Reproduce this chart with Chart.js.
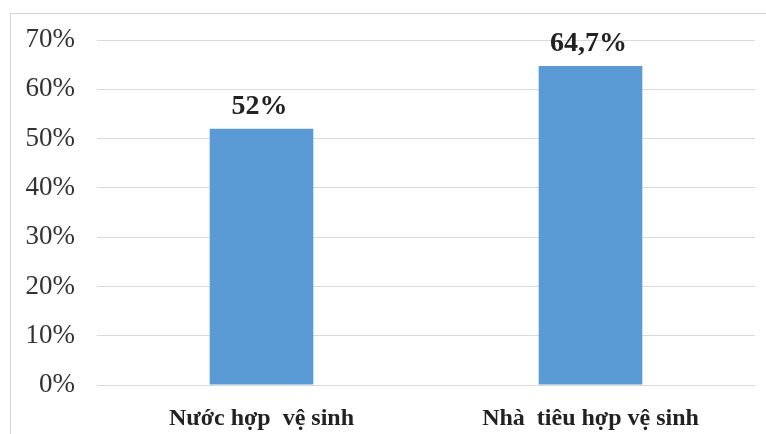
<!DOCTYPE html>
<html>
<head>
<meta charset="utf-8">
<script src="https://cdn.jsdelivr.net/npm/chart.js@4/dist/chart.umd.min.js"></script>
<style>
  html, body { margin: 0; padding: 0; background: #fff; }
  #wrap { position: absolute; left: 0; top: 0; width: 766px; height: 434px; }
  #frame { position: absolute; left: 10px; top: 13px; width: 756px; height: 421px;
    border-left: 1px solid #d4d4d4; border-top: 1px solid #d4d4d4; box-sizing: border-box; }
</style>
</head>
<body>
<div id="wrap">
  <canvas id="chart-bar" width="766" height="434"></canvas>
</div>
<div id="frame"></div>
<script>
const categories = ['Nước hợp  vệ sinh', 'Nhà  tiêu hợp vệ sinh']
const values = [52, 64.7]
const yTicks = [0, 10, 20, 30, 40, 50, 60, 70]

const serif = '"Liberation Serif", "Times New Roman", serif'

// value labels on top of the bars
const barLabels = {
	id: 'barLabels',
	afterDatasetsDraw(chart) {
		const ctx = chart.ctx
		const meta = chart.getDatasetMeta(0)
		ctx.save()
		ctx.font = 'bold 28px ' + serif
		ctx.fillStyle = '#222'
		ctx.textAlign = 'center'
		ctx.textBaseline = 'alphabetic'
		meta.data.forEach((bar, i) => {
			const txt = String(values[i]).replace('.', ',') + '%'
			ctx.fillText(txt, bar.x - 2, bar.y - 15)
		})
		ctx.restore()
	}
}

const mainchartBar = document.getElementById('chart-bar')
let chartBar = new Chart(mainchartBar, {
	type: 'bar',
	data: {
		labels: categories,
		datasets: [{
			data: values,
			backgroundColor: '#5b9bd5',
			borderWidth: 0,
			categoryPercentage: 1,
			barPercentage: 0.315
		}]
	},
	options: {
		responsive: false,
		animation: false,
		events: [],
		layout: {
			padding: { top: 40, right: 11, left: 0, bottom: 0 }
		},
		scales: {
			x: {
				grid: { display: false },
				border: { display: false },
				ticks: {
					padding: 11,
					color: '#222',
					font: { family: serif, size: 24, weight: 'bold' }
				},
				afterFit(scale) { scale.height = 49 }
			},
			y: {
				min: 0,
				max: yTicks[yTicks.length - 1],
				afterBuildTicks(scale) {
					scale.ticks = yTicks.map(v => ({ value: v }))
				},
				grid: { color: '#d9d9d9', lineWidth: 1, drawTicks: false },
				border: { display: false },
				ticks: {
					padding: 22,
					color: '#333',
					font: { family: serif, size: 27 },
					callback: v => v + '%'
				},
				afterFit(scale) { scale.width = 97 }
			}
		},
		plugins: {
			legend: { display: false },
			tooltip: { enabled: false }
		}
	},
	plugins: [barLabels]
})
</script>
</body>
</html>
